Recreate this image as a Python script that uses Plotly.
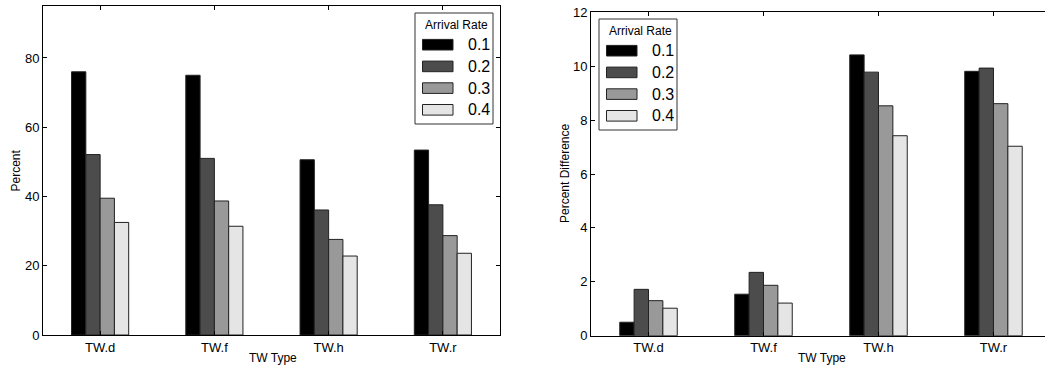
import plotly.graph_objects as go

categories = ["TW.d", "TW.f", "TW.h", "TW.r"]
rates = ["0.1", "0.2", "0.3", "0.4"]
colors = ["#000000", "#4c4c4c", "#999999", "#e5e5e5"]

percent = {
    "0.1": [76.0, 75.0, 50.6, 53.4],
    "0.2": [52.1, 51.0, 36.1, 37.6],
    "0.3": [39.5, 38.7, 27.6, 28.7],
    "0.4": [32.5, 31.4, 22.8, 23.6],
}
percent_diff = {
    "0.1": [0.50, 1.54, 10.42, 9.81],
    "0.2": [1.72, 2.35, 9.78, 9.93],
    "0.3": [1.30, 1.87, 8.53, 8.61],
    "0.4": [1.02, 1.21, 7.42, 7.03],
}

W, H = 1045, 370
FONT = "Liberation Sans, Arial, sans-serif"

def px(x):
    return x / W

def py(y):
    return 1 - y / H

fig = go.Figure()
for r, c in zip(rates, colors):
    fig.add_trace(go.Bar(x=categories, y=percent[r], name=r, marker=dict(color=c, line=dict(color="#222222", width=1)),
                         xaxis="x", yaxis="y", showlegend=False))
for r, c in zip(rates, colors):
    fig.add_trace(go.Bar(x=categories, y=percent_diff[r], name=r, marker=dict(color=c, line=dict(color="#222222", width=1)),
                         xaxis="x2", yaxis="y2", showlegend=False))

axis_common = dict(showline=True, linecolor="black", linewidth=1, ticks="inside", ticklen=4,
                   tickcolor="black", showgrid=False, zeroline=False, automargin=False,
                   tickfont=dict(family=FONT, size=13, color="black"))

fig.update_layout(
    width=W, height=H, margin=dict(l=0, r=0, t=0, b=0),
    paper_bgcolor="white", plot_bgcolor="white",
    barmode="group", bargap=0.5, bargroupgap=0,
    font=dict(family=FONT, size=12, color="black"),
    xaxis=dict(axis_common, domain=[px(43), px(500)], anchor="y", type="category",
               range=[-0.5, 3.5], mirror="ticks"),
    yaxis=dict(axis_common, domain=[py(335), py(6)], anchor="x", range=[0, 95],
               tickvals=[0, 20, 40, 60, 80], mirror="ticks"),
    xaxis2=dict(axis_common, domain=[px(591), 1.0], anchor="y2", type="category",
                range=[-0.5, 3.448], mirror="ticks"),
    yaxis2=dict(axis_common, domain=[py(335.7), py(12.3)], anchor="x2", range=[0, 12],
                tickvals=[0, 2, 4, 6, 8, 10, 12], mirror=False),
)

shapes = []
annotations = []

# Axis titles
title_font = dict(family=FONT, size=12, color="black")
for text, x, y, ang in [("TW Type", 272.5, 357.5, 0), ("Percent", 15, 170.5, -90),
                        ("TW Type", 822, 357.5, 0), ("Percent Difference", 565, 174, -90)]:
    annotations.append(dict(xref="paper", yref="paper", x=px(x), y=py(y), text=text, textangle=ang,
                            showarrow=False, xanchor="center", yanchor="middle", font=title_font))

# Manual legends (matplotlib-style wide patches)
for (bx, by) in [(415, 13), (599, 19)]:
    shapes.append(dict(type="rect", xref="paper", yref="paper",
                       x0=px(bx), x1=px(bx + 78), y0=py(by), y1=py(by + 111),
                       line=dict(color="#333333", width=1), fillcolor="white", layer="above"))
    annotations.append(dict(xref="paper", yref="paper", x=px(bx + 41), y=py(by + 12),
                            text="Arrival Rate", showarrow=False, xanchor="center", yanchor="middle",
                            font=dict(family=FONT, size=12, color="black")))
    for i, (r, c) in enumerate(zip(rates, colors)):
        cy = by + 31.7 + i * 21.7
        shapes.append(dict(type="rect", xref="paper", yref="paper",
                           x0=px(bx + 7.5), x1=px(bx + 38), y0=py(cy - 5.3), y1=py(cy + 5.3),
                           line=dict(color="#222222", width=1), fillcolor=c, layer="above"))
        annotations.append(dict(xref="paper", yref="paper", x=px(bx + 50.5), y=py(cy),
                                text=r, showarrow=False, xanchor="left", yanchor="middle",
                                font=dict(family=FONT, size=16, color="black")))

fig.update_layout(shapes=shapes, annotations=annotations)
fig.write_html("out.html")
